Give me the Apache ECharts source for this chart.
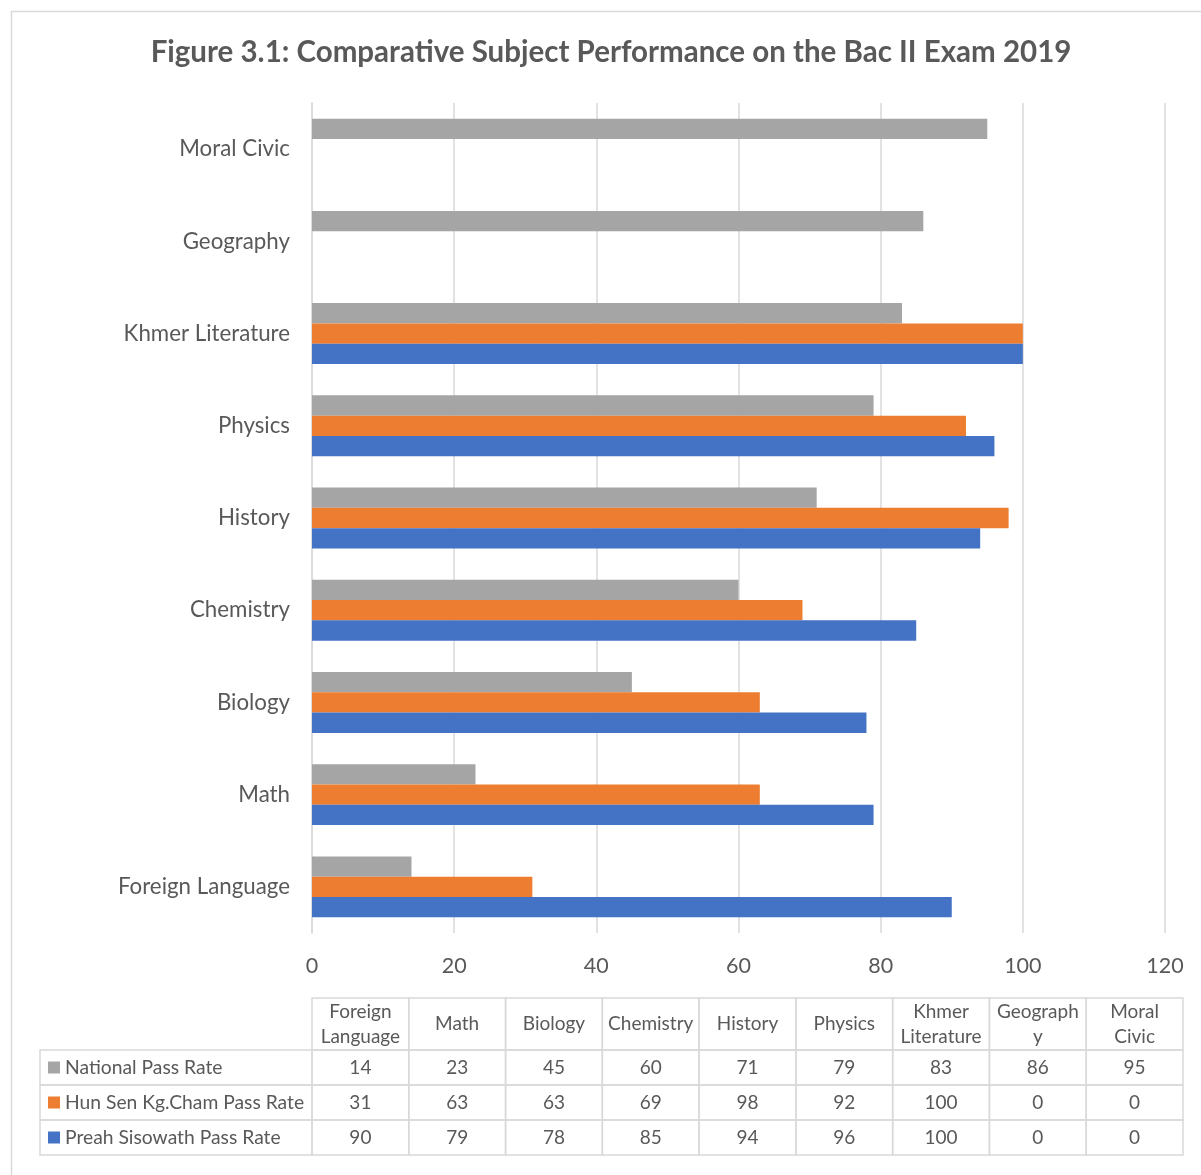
<!DOCTYPE html>
<html>
<head>
<meta charset="utf-8">
<script src="https://cdn.jsdelivr.net/npm/echarts@6/dist/echarts.min.js"></script>
<style>
html,body{margin:0;padding:0;background:#fff;}
#chart{width:1201px;height:1175px;}
</style>
</head>
<body>
<div id="chart"></div>
<script>
const titleText = 'Figure 3.1: Comparative Subject Performance on the Bac II Exam 2019';
const categories = ['Foreign Language','Math','Biology','Chemistry','History','Physics','Khmer Literature','Geography','Moral Civic'];
const tableHeaders = ['Foreign\nLanguage','Math','Biology','Chemistry','History','Physics','Khmer\nLiterature','Geograph\ny','Moral\nCivic'];
const seriesNames = ['National Pass Rate','Hun Sen Kg.Cham Pass Rate','Preah Sisowath Pass Rate'];
const nationalRate = [14,23,45,60,71,79,83,86,95];
const hunSenRate = [31,63,63,69,98,92,100,0,0];
const preahSisowathRate = [90,79,78,85,94,96,100,0,0];
const xTicks = [0,20,40,60,80,100,120];

const colors = ['#A5A5A5','#ED7D31','#4472C4'];
const FONT = 'Lato';
const TXT = '#595959';
const LINE = '#D9D9D9';

const allValues = [nationalRate, hunSenRate, preahSisowathRate];

// table layout
const tX0 = 312, tX1 = 1183, colW = (tX1 - tX0) / categories.length;
const labX0 = 40;
const hY0 = 998, hY1 = 1050, rowH = 35;

const g = [];
g.push({type:'rect', shape:{x:11.5,y:11.5,width:1205,height:1180}, style:{fill:'none',stroke:LINE,lineWidth:1.5}, silent:true});
g.push({type:'text', x:611, y:52, style:{text:titleText, font:'bold 29.5px '+FONT, fill:TXT, align:'center', verticalAlign:'middle'}});

for (let i=0;i<categories.length;i++){
  const x = tX0 + i*colW;
  g.push({type:'rect', shape:{x:x,y:hY0,width:colW,height:hY1-hY0}, style:{fill:'none',stroke:LINE,lineWidth:1.5}});
  g.push({type:'text', x:x+colW/2, y:(hY0+hY1)/2, style:{text:tableHeaders[i], font:'19px '+FONT, fill:TXT, align:'center', verticalAlign:'middle', lineHeight:25}});
}
for (let r=0;r<3;r++){
  const y = hY1 + r*rowH;
  g.push({type:'rect', shape:{x:labX0,y:y,width:tX0-labX0,height:rowH}, style:{fill:'none',stroke:LINE,lineWidth:1.5}});
  g.push({type:'rect', shape:{x:48,y:y+rowH/2-6,width:12,height:12}, style:{fill:colors[r]}});
  g.push({type:'text', x:65, y:y+rowH/2, style:{text:seriesNames[r], font:'19.3px '+FONT, fill:TXT, align:'left', verticalAlign:'middle'}});
  for (let i=0;i<categories.length;i++){
    const x = tX0 + i*colW;
    g.push({type:'rect', shape:{x:x,y:y,width:colW,height:rowH}, style:{fill:'none',stroke:LINE,lineWidth:1.5}});
    g.push({type:'text', x:x+colW/2, y:y+rowH/2, style:{text:String(allValues[r][i]), font:'19px '+FONT, fill:TXT, align:'center', verticalAlign:'middle'}});
  }
}

const chart = echarts.init(document.getElementById('chart'), null, {renderer:'canvas'});
chart.setOption({
  backgroundColor:'#fff',
  animation:false,
  textStyle:{fontFamily:FONT},
  grid:{left:312, right:36, top:103, bottom:242, containLabel:false},
  xAxis:{
    type:'value', min:xTicks[0], max:xTicks[xTicks.length-1], interval:20,
    axisLine:{show:false}, axisTick:{show:false},
    axisLabel:{color:TXT, fontSize:21.5, fontFamily:FONT, margin:22},
    splitLine:{show:true, lineStyle:{color:LINE, width:1.5}}
  },
  yAxis:{
    type:'category', data:categories,
    axisLine:{show:true, lineStyle:{color:LINE, width:1.5}},
    axisTick:{show:false},
    axisLabel:{color:TXT, fontSize:22.3, fontFamily:FONT, margin:22}
  },
  series: seriesNames.map((n,i)=>({
    name:n, type:'bar', data:allValues[i],
    itemStyle:{color:colors[i]},
    barGap:'0%', barCategoryGap:'34%'
  })),
  graphic:g
});
</script>
</body>
</html>
